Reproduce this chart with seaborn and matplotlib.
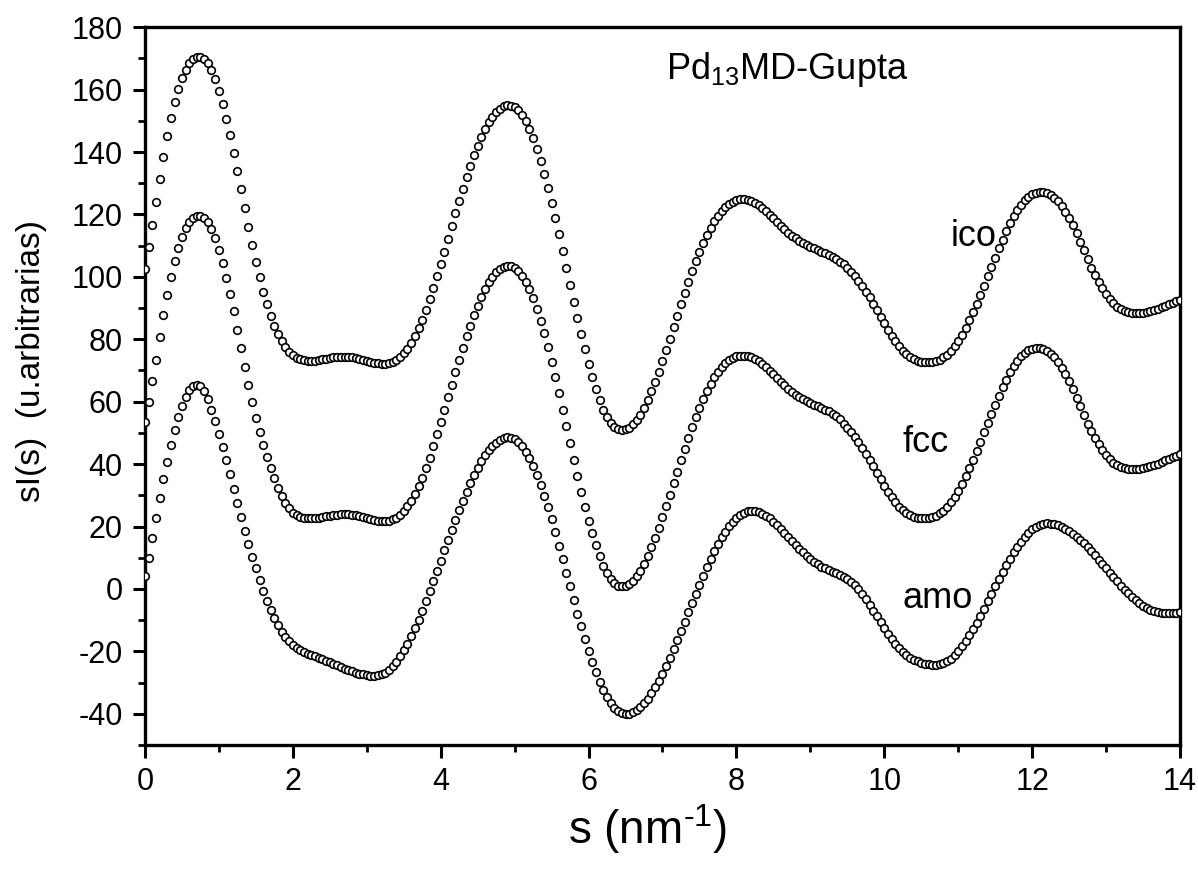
import numpy as np
import pandas as pd
import matplotlib
matplotlib.use("Agg")
import matplotlib.pyplot as plt
from matplotlib.ticker import MultipleLocator
import seaborn as sns

# Scattering curves sI(s) for the Pd13 cluster (MD, Gupta potential), step 0.05 nm^-1
s_step = 0.05
s_max = 14.0

ico = [
    102.5, 109.5, 116.5, 124, 131.5, 138.5, 145, 150.8, 155.9, 160.1, 163.6, 166.4, 168.4, 169.7, 170.4, 170.4, 169.8, 168.5, 166.3, 163.3,
    159.6, 155.3, 150.5, 145.3, 139.8, 134, 128, 122, 116, 110.2, 104.8, 99.8, 95.3, 91.2, 87.6, 84.4, 81.7, 79.4, 77.5, 76,
    74.9, 74.1, 73.6, 73.3, 73.1, 73.1, 73.2, 73.4, 73.6, 73.8, 74.0, 74.2, 74.3, 74.4, 74.4, 74.4, 74.3, 74.1, 73.8, 73.5,
    73.1, 72.8, 72.5, 72.3, 72.2, 72.2, 72.4, 72.8, 73.4, 74.3, 75.5, 77, 78.8, 81, 83.5, 86.3, 89.4, 92.8, 96.4, 100.2,
    104.1, 108.1, 112.2, 116.3, 120.4, 124.4, 128.3, 132, 135.6, 138.9, 142, 144.8, 147.3, 149.5, 151.3, 152.8, 153.9, 154.6, 154.9, 154.8,
    154.3, 153.3, 151.8, 149.8, 147.3, 144.4, 141, 137.2, 133.1, 128.6, 123.8, 118.8, 113.6, 108.3, 102.9, 97.5, 92.1, 86.8, 81.7, 76.8,
    72.2, 67.9, 64, 60.5, 57.5, 55, 53.1, 51.8, 51.1, 50.9, 51.1, 51.7, 52.7, 54.1, 55.9, 58, 60.5, 63.3, 66.3, 69.6,
    73, 76.6, 80.2, 83.9, 87.6, 91.3, 94.9, 98.4, 101.8, 105, 108, 110.8, 113.4, 115.7, 117.8, 119.6, 121.1, 122.4, 123.4, 124.1,
    124.6, 124.8, 124.8, 124.6, 124.2, 123.6, 122.9, 122, 121, 119.9, 118.8, 117.6, 116.4, 115.3, 114.2, 113.2, 112.3, 111.5, 110.8, 110.2,
    109.6, 109.1, 108.6, 108.1, 107.6, 107, 106.4, 105.7, 104.9, 104, 102.9, 101.7, 100.3, 98.8, 97.1, 95.3, 93.4, 91.4, 89.3, 87.2,
    85.1, 83.1, 81.2, 79.4, 77.8, 76.4, 75.2, 74.3, 73.6, 73.1, 72.8, 72.6, 72.6, 72.7, 73, 73.5, 74.2, 75.1, 76.3, 77.8,
    79.5, 81.5, 83.7, 86.1, 88.7, 91.4, 94.3, 97.2, 100.2, 103.2, 106.2, 109.1, 111.9, 114.6, 117.1, 119.4, 121.4, 123.1, 124.6, 125.7,
    126.5, 127, 127.2, 127.2, 126.9, 126.3, 125.4, 124.2, 122.7, 120.9, 118.8, 116.5, 114, 111.3, 108.5, 105.7, 102.9, 100.5, 98.3, 96.3,
    94.5, 92.9, 91.6, 90.5, 89.7, 89.1, 88.7, 88.4, 88.3, 88.3, 88.4, 88.7, 89.0, 89.4, 89.8, 90.2, 90.7, 91.2, 91.7, 92.2,
    92.7,
]

fcc = [
    53.5, 60, 66.5, 73.5, 80.8, 87.7, 94.2, 99.9, 105, 109.2, 112.7, 115.5, 117.5, 118.8, 119.5, 119.5, 118.9, 117.6, 115.4, 112.4,
    108.7, 104.4, 99.6, 94.4, 88.9, 83.1, 77.1, 71.1, 65.3, 59.8, 54.8, 50.3, 46.2, 42.3, 38.7, 35.4, 32.4, 29.8, 27.6, 25.9,
    24.4, 23.6, 23.1, 22.8, 22.6, 22.6, 22.7, 22.9, 23.1, 23.3, 23.5, 23.7, 23.8, 23.9, 23.9, 23.9, 23.8, 23.6, 23.3, 23.0,
    22.6, 22.3, 22.0, 21.8, 21.7, 21.7, 21.9, 22.3, 22.9, 23.8, 25.0, 26.5, 28.3, 30.4, 32.9, 35.7, 38.7, 42.1, 45.7, 49.5,
    53.4, 57.3, 61.4, 65.4, 69.5, 73.4, 77.3, 80.9, 84.4, 87.7, 90.7, 93.5, 96, 98.2, 100, 101.5, 102.5, 103.2, 103.5, 103.4,
    102.9, 101.9, 100.4, 98.4, 96, 93.1, 89.8, 86, 82, 77.5, 72.8, 67.8, 62.7, 57.4, 52.1, 46.8, 41.4, 36.2, 31.1, 26.3,
    21.7, 17.9, 14, 10.5, 7.5, 5, 3.1, 1.8, 1.1, 0.9, 1.1, 1.7, 2.7, 4.1, 5.9, 8, 10.5, 13.3, 16.3, 19.6,
    23, 26.6, 30.2, 33.9, 37.6, 41.3, 44.9, 48.4, 51.8, 55, 58, 60.8, 63.4, 65.7, 67.8, 69.6, 71.1, 72.4, 73.4, 74.1,
    74.6, 74.8, 74.8, 74.6, 74.2, 73.6, 72.9, 72, 71, 69.9, 68.8, 67.6, 66.4, 65.3, 64.2, 63.2, 62.3, 61.5, 60.8, 60.2,
    59.6, 59.1, 58.6, 58.1, 57.5, 56.9, 56.2, 55.4, 54.3, 52.9, 51.7, 50.3, 48.8, 47.1, 45.3, 43.4, 41.4, 39.3, 37.2, 35.1,
    33.1, 31.2, 29.4, 27.8, 26.4, 25.2, 24.3, 23.6, 23.1, 22.8, 22.6, 22.6, 22.7, 23, 23.5, 24.2, 25.1, 26.3, 27.8, 29.5,
    31.5, 33.7, 36.1, 38.7, 41.4, 44.3, 47.2, 50.2, 53.2, 56.2, 59.1, 61.9, 64.6, 67.1, 69.4, 71.4, 73.1, 74.6, 75.7, 76.5,
    77, 77.2, 77.2, 76.9, 76.3, 75.4, 74.2, 72.7, 70.9, 68.8, 66.5, 64, 61.3, 58.5, 55.7, 52.9, 50.5, 48.3, 46.3, 44.5,
    42.9, 41.6, 40.5, 39.7, 39.1, 38.7, 38.4, 38.3, 38.3, 38.4, 38.7, 39, 39.4, 39.8, 40.2, 40.7, 41.2, 41.7, 42.2, 42.7,
    43.2,
]

amo = [
    4, 9.8, 16.3, 22.8, 29.1, 35.1, 40.8, 46.1, 50.8, 55, 58.5, 61.4, 63.6, 65, 65.5, 65.1, 63.5, 60.8, 57.5, 53.8,
    49.8, 45.6, 41.2, 36.7, 32.1, 27.5, 23, 18.6, 14.4, 10.4, 6.6, 2.8, -0.7, -3.9, -6.8, -9.4, -11.7, -13.7, -15.4, -16.8,
    -18, -18.9, -19.6, -20.2, -20.7, -21.2, -21.6, -22.1, -22.5, -23, -23.5, -24, -24.5, -25, -25.5, -26, -26.4, -26.8, -27.1, -27.4,
    -27.6, -27.8, -27.8, -27.7, -27.4, -26.8, -25.9, -24.8, -23.3, -21.6, -19.7, -17.5, -15.2, -12.6, -9.8, -6.9, -3.9, -0.8, 2.5, 5.7,
    9.1, 12.4, 15.7, 19, 22.2, 25.3, 28.3, 31.2, 33.9, 36.4, 38.8, 40.9, 42.8, 44.4, 45.8, 46.9, 47.8, 48.3, 48.6, 48.5,
    48, 47.1, 45.8, 44, 41.9, 39.4, 36.5, 33.4, 29.9, 26.2, 22.3, 18.2, 13.9, 9.6, 5.2, 0.8, -3.6, -7.9, -12, -16,
    -19.8, -23.4, -26.7, -29.7, -32.3, -34.6, -36.5, -38, -39.2, -39.8, -40, -39.9, -39.4, -38.8, -37.8, -36.6, -35.1, -33.4, -31.5, -29.4,
    -27.1, -24.6, -22, -19.3, -16.4, -13.5, -10.5, -7.5, -4.5, -1.5, 1.4, 4.2, 7, 9.6, 12.1, 14.4, 16.5, 18.4, 20.1, 21.6,
    22.8, 23.8, 24.4, 24.9, 25, 24.9, 24.6, 24.1, 23.4, 22.6, 21.6, 20.5, 19.3, 18, 16.7, 15.4, 14.1, 12.9, 11.7, 10.6,
    9.6, 8.7, 7.9, 7.2, 6.6, 6, 5.5, 5, 4.5, 3.9, 3.2, 2.3, 1.2, -0.1, -1.6, -3.2, -5, -6.9, -8.8, -10.7,
    -12.6, -14.4, -16.1, -17.6, -19, -20.2, -21.2, -22, -22.7, -23.2, -23.6, -23.9, -24.1, -24.2, -24.2, -24.1, -23.7, -23.1, -22.3, -21.2,
    -19.9, -18.4, -16.7, -14.9, -12.9, -10.8, -8.6, -6.3, -4, -1.6, 0.8, 3.1, 5.4, 7.6, 9.7, 11.7, 13.5, 15.2, 16.7, 18,
    19.1, 19.9, 20.5, 20.9, 21, 20.9, 20.7, 20.4, 19.9, 19.3, 18.6, 17.7, 16.8, 15.7, 14.6, 13.4, 12.1, 10.8, 9.4, 8,
    6.6, 5.2, 3.8, 2.4, 1.1, -0.2, -1.4, -2.5, -3.6, -4.5, -5.4, -6.1, -6.7, -7.2, -7.5, -7.7, -7.8, -7.8, -7.7, -7.6,
    -7.4,
]

curve_names = ["ico", "fcc", "amo"]
x_ticks = [0, 2, 4, 6, 8, 10, 12, 14]
y_ticks = [-40, -20, 0, 20, 40, 60, 80, 100, 120, 140, 160, 180]

n_pts = int(round(s_max / s_step)) + 1
s = np.round(np.arange(n_pts) * s_step, 2)

frames = []
for name, vals in zip(curve_names, [ico, fcc, amo]):
    frames.append(pd.DataFrame({"s": s, "sI": vals, "curve": name}))
df = pd.concat(frames, ignore_index=True)

sns.set_theme(style="ticks")
plt.rcParams["font.family"] = ["Liberation Sans", "DejaVu Sans"]
plt.rcParams["axes.unicode_minus"] = False
plt.rcParams["text.color"] = "black"
plt.rcParams["axes.labelcolor"] = "black"

fig = plt.figure(figsize=(11.98, 8.76), dpi=100)
ax = fig.add_axes([0.121, 0.1495, 0.864, 0.8195])

for name in curve_names:
    sns.scatterplot(data=df[df["curve"] == name], x="s", y="sI", ax=ax,
                    marker="o", s=30, facecolor="white", edgecolor="black",
                    linewidth=1.2, legend=False, zorder=3)

ax.set_xlim(0, 14)
ax.set_ylim(-50, 180)
ax.set_xticks(x_ticks)
ax.set_yticks(y_ticks)
ax.xaxis.set_minor_locator(MultipleLocator(1))
ax.yaxis.set_minor_locator(MultipleLocator(10))
ax.tick_params(axis="both", which="major", direction="out", length=9, width=2.2,
               labelsize=22, color="black", labelcolor="black", pad=7)
ax.tick_params(axis="both", which="minor", direction="out", length=5, width=2.0,
               color="black")
ax.tick_params(top=False, right=False, which="both")
for sp in ax.spines.values():
    sp.set_visible(True)
    sp.set_linewidth(2.4)
    sp.set_color("black")

ax.set_xlabel("s (nm$^{\\mathregular{\u20101}}$)", fontsize=33, color="black")
ax.xaxis.set_label_coords(0.486, -0.08)
ax.set_ylabel("sI(s)  (u.arbitrarias)", fontsize=24, color="black")
ax.yaxis.set_label_coords(-0.095, 0.535)

ax.text(7.05, 166.5, r"Pd$_{\mathregular{13}}$MD-Gupta", fontsize=26, ha="left", va="center", color="black")
ax.text(10.9, 113, "ico", fontsize=26, ha="left", va="center", color="black")
ax.text(10.25, 47, "fcc", fontsize=26, ha="left", va="center", color="black")
ax.text(10.25, -3, "amo", fontsize=26, ha="left", va="center", color="black")

fig.savefig("out.png", dpi=100, facecolor="white")
